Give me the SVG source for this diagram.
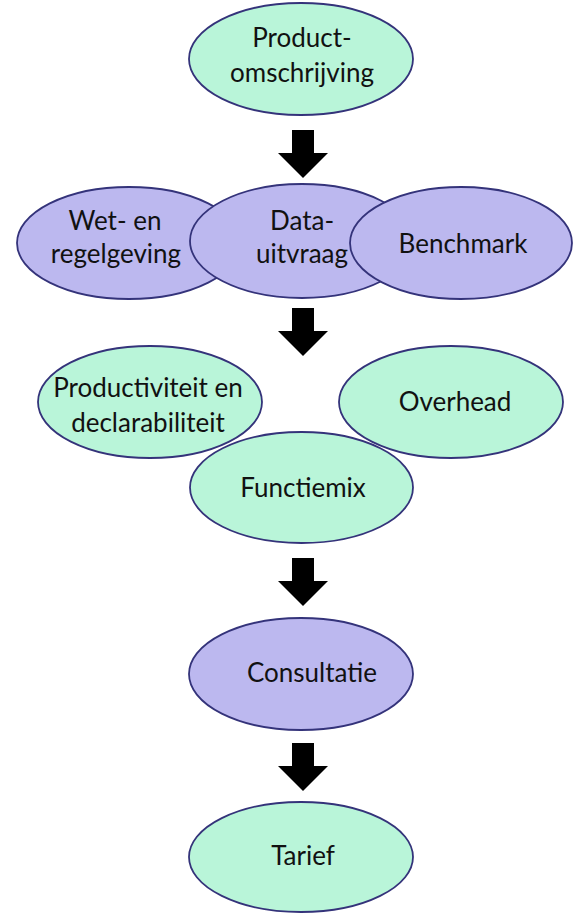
<svg xmlns="http://www.w3.org/2000/svg" width="573" height="913" viewBox="0 0 573 913">
<style>
.g{fill:#b9f5d9;stroke:#34337a;stroke-width:1.8}
.p{fill:#bcb8ef;stroke:#34337a;stroke-width:1.8}
text{font-family:Lato,"Open Sans","Liberation Sans",sans-serif;font-size:26px;fill:#111;text-anchor:middle}
.arr{fill:#000}
</style>
<defs>
<polygon id="ar" points="-11,0 11,0 11,23 25,23 0,48 -25,23 -11,23"/>
</defs>
<rect width="573" height="913" fill="#fff"/>
<g id="connectors">
<use href="#ar" class="arr" x="303" y="130"/>
<use href="#ar" class="arr" x="303" y="308"/>
<use href="#ar" class="arr" x="303" y="558"/>
<use href="#ar" class="arr" x="303" y="743"/>
</g>
<g id="productomschrijving">
<ellipse class="g" cx="301" cy="59" rx="112" ry="56"/>
<text x="302" y="47">Product-</text>
<text x="302" y="82">omschrijving</text>
</g>
<g id="wetregelgeving">
<ellipse class="p" cx="129" cy="243" rx="112" ry="56"/>
<text x="115" y="230">Wet- en</text>
<text x="116" y="263">regelgeving</text>
</g>
<g id="datauitvraag">
<ellipse class="p" cx="302" cy="241" rx="112" ry="57"/>
<text x="302" y="230">Data-</text>
<text x="302" y="263">uitvraag</text>
</g>
<g id="benchmark">
<ellipse class="p" cx="461" cy="243" rx="111" ry="56"/>
<text x="463" y="253">Benchmark</text>
</g>
<g id="productiviteit">
<ellipse class="g" cx="150" cy="402" rx="112" ry="56"/>
<text x="148" y="397">Productiviteit en</text>
<text x="148" y="432">declarabiliteit</text>
</g>
<g id="overhead">
<ellipse class="g" cx="451" cy="402" rx="112" ry="56"/>
<text x="455" y="411">Overhead</text>
</g>
<g id="functiemix">
<ellipse class="g" cx="301.5" cy="487.5" rx="111.5" ry="55.5"/>
<text x="303" y="497">Functiemix</text>
</g>
<g id="consultatie">
<ellipse class="p" cx="301" cy="674" rx="112" ry="56"/>
<text x="312" y="682">Consultatie</text>
</g>
<g id="tarief">
<ellipse class="g" cx="301" cy="857" rx="112" ry="55"/>
<text x="303" y="865">Tarief</text>
</g>
</svg>
